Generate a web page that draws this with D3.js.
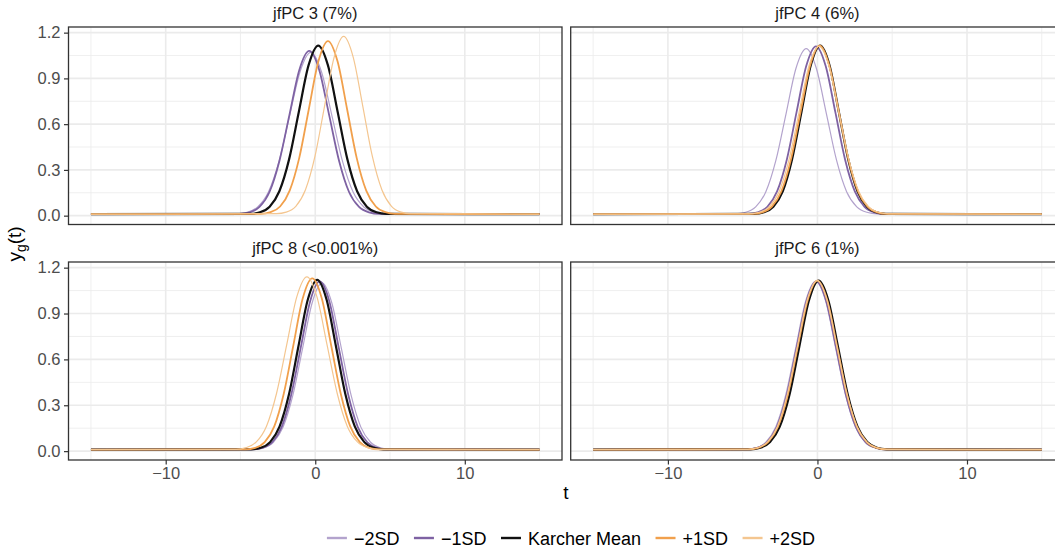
<!DOCTYPE html>
<html><head><meta charset="utf-8">
<script src="https://cdn.jsdelivr.net/npm/d3@7"></script>
<style>body{margin:0;background:#fff}svg{display:block;font-family:"Liberation Sans",Arial,sans-serif}</style>
</head><body><svg id="c" width="1055" height="553"></svg>
<script>
const seriesNames = ["\u22122SD","\u22121SD","Karcher Mean","+1SD","+2SD"];
const seriesColors = ["#b3a3cd","#7e62a3","#111111","#f1a04c","#f4c690"];
const seriesWidths = [1.2,1.8,2.2,1.8,1.2];
const panelTitles = ["jfPC 3 (7%)","jfPC 4 (6%)","jfPC 8 (<0.001%)","jfPC 6 (1%)"];
const xTicks = [-10,0,10];
const xMinor = [-15,-5,5,15];
const yTicks = [0,0.3,0.6,0.9,1.2];
const yMinor = [0.15,0.45,0.75,1.05];

// jfPC 3 (7%)
const pc3T = [
 [-15,-5.27,-4.56,-3.85,-3.14,-2.43,-1.72,-1.01,-0.30,0.41,1.12,1.83,2.54,3.25,3.96,4.67,15],
 [-15,-5.06,-4.39,-3.73,-3.06,-2.40,-1.73,-1.07,-0.40,0.27,0.93,1.60,2.26,2.93,3.59,4.26,15],
 [-15,-4.35,-3.70,-3.05,-2.40,-1.75,-1.10,-0.45,0.20,0.85,1.50,2.15,2.80,3.45,4.10,4.75,15],
 [-15,-3.63,-2.99,-2.35,-1.71,-1.07,-0.43,0.21,0.85,1.49,2.13,2.77,3.41,4.05,4.69,5.33,15],
 [-15,-2.58,-1.94,-1.30,-0.66,-0.02,0.62,1.26,1.90,2.54,3.18,3.82,4.46,5.10,5.74,6.38,15]];
const pc3Y = [
 [0.01,0.012,0.022,0.057,0.153,0.354,0.653,0.945,1.070,0.945,0.653,0.354,0.153,0.057,0.022,0.012,0.01],
 [0.01,0.012,0.022,0.057,0.155,0.357,0.659,0.954,1.080,0.954,0.659,0.357,0.155,0.057,0.022,0.012,0.01],
 [0.01,0.012,0.022,0.059,0.160,0.369,0.680,0.985,1.115,0.985,0.680,0.369,0.160,0.059,0.022,0.012,0.01],
 [0.01,0.012,0.023,0.060,0.164,0.379,0.698,1.012,1.145,1.012,0.698,0.379,0.164,0.060,0.023,0.012,0.01],
 [0.01,0.013,0.023,0.061,0.168,0.388,0.717,1.038,1.175,1.038,0.717,0.388,0.168,0.061,0.023,0.013,0.01]];

// jfPC 4 (6%)
const pc4T = [
 [-15,-5.48,-4.80,-4.13,-3.45,-2.78,-2.10,-1.43,-0.75,-0.08,0.60,1.28,1.95,2.63,3.30,3.98,15],
 [-15,-4.65,-4.00,-3.35,-2.70,-2.05,-1.40,-0.75,-0.10,0.55,1.20,1.85,2.50,3.15,3.80,4.45,15],
 [-15,-4.20,-3.57,-2.95,-2.32,-1.70,-1.07,-0.45,0.18,0.81,1.43,2.06,2.68,3.31,3.93,4.56,15],
 [-15,-4.33,-3.69,-3.05,-2.41,-1.77,-1.13,-0.49,0.15,0.79,1.43,2.07,2.71,3.35,3.99,4.63,15],
 [-15,-4.56,-3.89,-3.23,-2.56,-1.90,-1.23,-0.57,0.10,0.77,1.43,2.10,2.76,3.43,4.09,4.76,15]];
const pc4Y = [
 [0.01,0.012,0.022,0.058,0.157,0.362,0.668,0.968,1.095,0.968,0.668,0.362,0.157,0.058,0.022,0.012,0.01],
 [0.01,0.012,0.022,0.058,0.159,0.367,0.677,0.981,1.110,0.981,0.677,0.367,0.159,0.058,0.022,0.012,0.01],
 [0.01,0.012,0.022,0.059,0.160,0.369,0.680,0.985,1.115,0.985,0.680,0.369,0.160,0.059,0.022,0.012,0.01],
 [0.01,0.012,0.022,0.059,0.160,0.369,0.680,0.985,1.115,0.985,0.680,0.369,0.160,0.059,0.022,0.012,0.01],
 [0.01,0.012,0.022,0.058,0.159,0.367,0.677,0.981,1.110,0.981,0.677,0.367,0.159,0.058,0.022,0.012,0.01]];

// jfPC 8 (<0.001%)
const pc8T = [
 [-15,-4.10,-3.45,-2.80,-2.15,-1.50,-0.85,-0.20,0.45,1.10,1.75,2.40,3.05,3.70,4.35,5.00,15],
 [-15,-4.15,-3.51,-2.88,-2.24,-1.61,-0.97,-0.34,0.30,0.94,1.57,2.21,2.84,3.48,4.11,4.75,15],
 [-15,-4.28,-3.65,-3.02,-2.39,-1.76,-1.13,-0.50,0.13,0.76,1.39,2.02,2.65,3.28,3.91,4.54,15],
 [-15,-4.65,-4.01,-3.38,-2.74,-2.11,-1.47,-0.84,-0.20,0.44,1.07,1.71,2.34,2.98,3.61,4.25,15],
 [-15,-5.29,-4.61,-3.94,-3.26,-2.59,-1.91,-1.24,-0.56,0.12,0.79,1.47,2.14,2.82,3.49,4.17,15]];
const pc8Y = [
 [0.01,0.012,0.022,0.058,0.157,0.364,0.671,0.972,1.100,0.972,0.671,0.364,0.157,0.058,0.022,0.012,0.01],
 [0.01,0.012,0.022,0.058,0.159,0.367,0.677,0.981,1.110,0.981,0.677,0.367,0.159,0.058,0.022,0.012,0.01],
 [0.01,0.012,0.022,0.059,0.160,0.370,0.683,0.990,1.120,0.990,0.683,0.370,0.160,0.059,0.022,0.012,0.01],
 [0.01,0.012,0.022,0.059,0.162,0.374,0.689,0.998,1.130,0.998,0.689,0.374,0.162,0.059,0.022,0.012,0.01],
 [0.01,0.012,0.023,0.060,0.163,0.377,0.695,1.007,1.140,1.007,0.695,0.377,0.163,0.060,0.023,0.012,0.01]];

// jfPC 6 (1%)
const pc6T = [
 [-15,-4.78,-4.11,-3.45,-2.78,-2.12,-1.45,-0.79,-0.12,0.55,1.21,1.88,2.54,3.21,3.87,4.54,15],
 [-15,-4.69,-4.03,-3.37,-2.71,-2.05,-1.39,-0.73,-0.07,0.59,1.25,1.91,2.57,3.23,3.89,4.55,15],
 [-15,-4.47,-3.82,-3.17,-2.52,-1.87,-1.22,-0.57,0.08,0.73,1.38,2.03,2.68,3.33,3.98,4.63,15],
 [-15,-4.62,-3.96,-3.30,-2.64,-1.98,-1.32,-0.66,0.00,0.66,1.32,1.98,2.64,3.30,3.96,4.62,15],
 [-15,-4.68,-4.01,-3.35,-2.68,-2.02,-1.35,-0.69,-0.02,0.65,1.31,1.98,2.64,3.31,3.97,4.64,15]];
const pc6Y = [
 [0.01,0.012,0.022,0.058,0.159,0.367,0.677,0.981,1.110,0.981,0.677,0.367,0.159,0.058,0.022,0.012,0.01],
 [0.01,0.012,0.022,0.058,0.159,0.367,0.677,0.981,1.110,0.981,0.677,0.367,0.159,0.058,0.022,0.012,0.01],
 [0.01,0.012,0.022,0.059,0.160,0.369,0.680,0.985,1.115,0.985,0.680,0.369,0.160,0.059,0.022,0.012,0.01],
 [0.01,0.012,0.022,0.059,0.160,0.369,0.680,0.985,1.115,0.985,0.680,0.369,0.160,0.059,0.022,0.012,0.01],
 [0.01,0.012,0.022,0.059,0.160,0.369,0.680,0.985,1.115,0.985,0.680,0.369,0.160,0.059,0.022,0.012,0.01]];

const panelT = [pc3T, pc4T, pc8T, pc6T];
const panelY = [pc3Y, pc4Y, pc8Y, pc6Y];

const svg = d3.select("#c");
const colsX = [[68.5, 562], [570.7, 1064.2]];
const rowsY = [[27, 224.5], [262, 460]];
const fs = 16.5;

for (let p = 0; p < 4; p++) {
  const col = p % 2, row = Math.floor(p / 2);
  const [x0, x1] = colsX[col], [y0, y1] = rowsY[row];
  const x = d3.scaleLinear().domain([-16.5, 16.5]).range([x0, x1]);
  const y = d3.scaleLinear().domain([-0.058, 1.237]).range([y1, y0]);
  const g = svg.append("g");
  g.append("rect").attr("x", x0).attr("y", y0).attr("width", x1 - x0).attr("height", y1 - y0).attr("fill", "#fff");
  g.selectAll(".mnx").data(xMinor).enter().append("line")
    .attr("x1", d => x(d)).attr("x2", d => x(d)).attr("y1", y0).attr("y2", y1)
    .attr("stroke", "#ebebeb").attr("stroke-width", 0.8);
  g.selectAll(".mny").data(yMinor).enter().append("line")
    .attr("y1", d => y(d)).attr("y2", d => y(d)).attr("x1", x0).attr("x2", x1)
    .attr("stroke", "#ebebeb").attr("stroke-width", 0.8);
  g.selectAll(".mjx").data(xTicks).enter().append("line")
    .attr("x1", d => x(d)).attr("x2", d => x(d)).attr("y1", y0).attr("y2", y1)
    .attr("stroke", "#ebebeb").attr("stroke-width", 1.6);
  g.selectAll(".mjy").data(yTicks).enter().append("line")
    .attr("y1", d => y(d)).attr("y2", d => y(d)).attr("x1", x0).attr("x2", x1)
    .attr("stroke", "#ebebeb").attr("stroke-width", 1.6);

  const clipId = "clip" + p;
  svg.append("clipPath").attr("id", clipId).append("rect")
    .attr("x", x0).attr("y", y0).attr("width", x1 - x0).attr("height", y1 - y0);
  const line = d3.line().x(d => x(d[0])).y(d => y(d[1])).curve(d3.curveMonotoneX);
  const lg = g.append("g").attr("clip-path", `url(#${clipId})`);
  for (let s = 0; s < 5; s++) {
    const pts = d3.zip(panelT[p][s], panelY[p][s]);
    lg.append("path").attr("d", line(pts)).attr("fill", "none")
      .attr("stroke", seriesColors[s]).attr("stroke-width", seriesWidths[s])
      .attr("stroke-linejoin", "round");
  }
  g.append("rect").attr("x", x0).attr("y", y0).attr("width", x1 - x0).attr("height", y1 - y0)
    .attr("fill", "none").attr("stroke", "#333333").attr("stroke-width", 1.3);

  // strip title
  svg.append("text").attr("x", (x0 + x1) / 2).attr("y", y0 - 8).attr("text-anchor", "middle")
    .attr("font-size", fs).attr("fill", "#1a1a1a").text(panelTitles[p]);

  if (col === 0) {
    const ax = svg.append("g").attr("transform", `translate(${x0},0)`)
      .call(d3.axisLeft(y).tickValues(yTicks).tickFormat(d3.format(".1f")).tickSize(4.5).tickPadding(3.5));
    ax.select(".domain").remove();
    ax.selectAll(".tick line").attr("stroke", "#333333").attr("stroke-width", 1.2);
    ax.selectAll(".tick text").attr("font-size", fs).attr("fill", "#4d4d4d").attr("font-family", "Liberation Sans, Arial, sans-serif");
  }
  if (row === 1) {
    const ax = svg.append("g").attr("transform", `translate(0,${y1})`)
      .call(d3.axisBottom(x).tickValues(xTicks).tickFormat(d => d < 0 ? "\u2212" + Math.abs(d) : d).tickSize(4.5).tickPadding(3));
    ax.select(".domain").remove();
    ax.selectAll(".tick line").attr("stroke", "#333333").attr("stroke-width", 1.2);
    ax.selectAll(".tick text").attr("font-size", fs).attr("fill", "#4d4d4d").attr("font-family", "Liberation Sans, Arial, sans-serif");
  }
}

// axis titles
svg.append("text").attr("x", 566).attr("y", 499).attr("text-anchor", "middle")
  .attr("font-size", 19).attr("fill", "#000").text("t");
const yt = svg.append("text").attr("transform", "translate(21,244) rotate(-90)")
  .attr("text-anchor", "middle").attr("font-size", 19).attr("fill", "#000");
yt.append("tspan").text("y");
yt.append("tspan").attr("font-size", 14).attr("dy", 5).text("g");
yt.append("tspan").attr("dy", -5).text("(t)");

// legend
const leg = svg.append("g");
let cx = 0;
const lfs = 18, gap = 14.5;
seriesNames.forEach((n, i) => {
  const it = leg.append("g");
  it.append("line").attr("x1", 0).attr("x2", 20).attr("y1", 0).attr("y2", 0)
    .attr("stroke", seriesColors[i]).attr("stroke-width", 2.4);
  const t = it.append("text").attr("x", 27).attr("y", 6.5).attr("font-size", lfs).attr("fill", "#000").text(n);
  const w = t.node().getComputedTextLength();
  it.attr("transform", `translate(${cx},0)`);
  cx += 27 + w + gap;
});
const totalW = cx - gap;
leg.attr("transform", `translate(${571 - totalW / 2},538)`);
</script></body></html>
